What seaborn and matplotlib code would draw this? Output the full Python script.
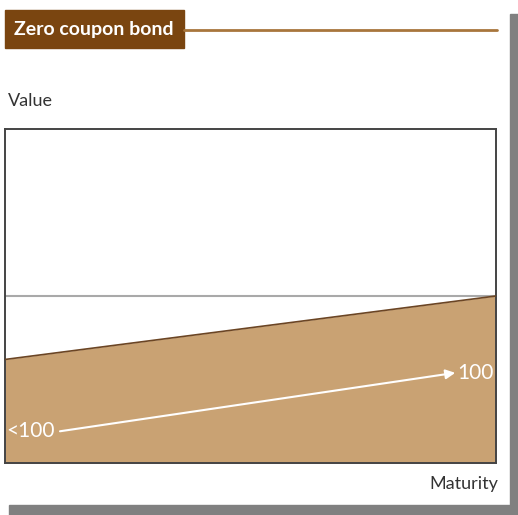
import matplotlib
matplotlib.use("Agg")
import matplotlib.pyplot as plt
from matplotlib.patches import Rectangle
import seaborn as sns
import pandas as pd

# data
maturity = [0.0, 1.0]
bond_value = [62, 100]
par_value = 100
arrow_x = [0.112, 0.917]
arrow_y = [19, 54]
arrow_labels = ["<100", "100"]

BROWN = "#7a4510"
TAN = "#c9a273"
LINE_BROWN = "#a8763c"

sns.set_style("white")
plt.rcParams["font.family"] = ["Lato", "DejaVu Sans"]

fig = plt.figure(figsize=(5.18, 5.15), dpi=100)
ax = fig.add_axes([5 / 518, 52 / 515, 491 / 518, 334 / 515])

df = pd.DataFrame({"Maturity": maturity, "Value": bond_value})
ax.fill_between(df["Maturity"], 0, df["Value"], color=TAN, lw=0, zorder=1)
sns.lineplot(data=df, x="Maturity", y="Value", ax=ax, color="#6b4524", lw=1.2, zorder=3)
ax.axhline(par_value, color="#a9a9a9", lw=1.5, zorder=2)

# arrow from below par to par
ax.annotate("", xy=(arrow_x[1], arrow_y[1]), xytext=(arrow_x[0], arrow_y[0]),
            arrowprops=dict(arrowstyle="-|>", color="white", lw=1.5,
                            mutation_scale=14, shrinkA=0, shrinkB=0), zorder=4)
ax.text(arrow_x[0] - 0.01, arrow_y[0], arrow_labels[0], color="white",
        fontsize=15, ha="right", va="center", zorder=4)
ax.text(arrow_x[1] + 0.005, arrow_y[1], arrow_labels[1], color="white",
        fontsize=15, ha="left", va="center", zorder=4)

ax.set_xlim(0, 1)
ax.set_ylim(0, 200)
ax.set_xticks([])
ax.set_yticks([])
ax.set_xlabel("")
ax.set_ylabel("")
for sp in ax.spines.values():
    sp.set_color("#444444")
    sp.set_linewidth(1.4)
    sp.set_visible(True)

# axis labels placed like the reference
fig.text(8 / 518, 1 - 101 / 515, "Value", fontsize=13, color="#333333",
         ha="left", va="center")
fig.text(498 / 518, 1 - 484 / 515, "Maturity", fontsize=13, color="#333333",
         ha="right", va="center")

# title box and rule
fig.patches.append(Rectangle((5 / 518, 1 - 48 / 515), 179 / 518, 38 / 515,
                             transform=fig.transFigure, color=BROWN, zorder=1))
fig.text(94 / 518, 1 - 29 / 515, "Zero coupon bond", fontsize=14, fontweight="bold",
         color="white", ha="center", va="center", zorder=2)
fig.add_artist(plt.Line2D([184 / 518, 497 / 518], [1 - 30 / 515, 1 - 30 / 515],
                          transform=fig.transFigure, color=LINE_BROWN, lw=2))

# drop shadow
fig.patches.append(Rectangle((510 / 518, 0), 8 / 518, 1 - 14 / 515,
                             transform=fig.transFigure, color="#808080", zorder=1))
fig.patches.append(Rectangle((9 / 518, 0), 509 / 518, 10 / 515,
                             transform=fig.transFigure, color="#808080", zorder=1))

fig.savefig("out.png", dpi=100)
